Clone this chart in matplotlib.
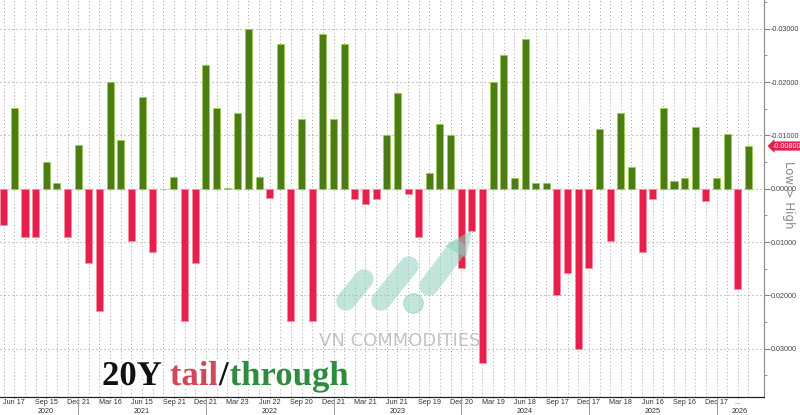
import matplotlib
matplotlib.use('Agg')
import matplotlib.pyplot as plt
import numpy as np
from matplotlib.lines import Line2D
from matplotlib.patches import Polygon
import matplotlib.transforms as mtransforms
import matplotlib.patheffects as pe

# 20Y auction tail (+) / through (-), in yield units
tail = [0.0069, -0.0151, 0.0090, 0.0090, -0.0050, -0.0010, 0.0090, -0.0081,
        0.0140, 0.0229, -0.0200, -0.0091, 0.0099, -0.0171, 0.0119, 0.0001,
        -0.0021, 0.0249, 0.0140, -0.0231, -0.0151, -0.0001, -0.0141, -0.0300,
        -0.0021, 0.0018, -0.0271, 0.0249, -0.0130, 0.0249, -0.0290, -0.0130,
        -0.0271, 0.0019, 0.0029, 0.0019, -0.0100, -0.0180, 0.0010, 0.0090,
        -0.0030, -0.0121, -0.0100, 0.0149, 0.0079, 0.0327, -0.0200, -0.0250,
        -0.0020, -0.0280, -0.0011, -0.0011, 0.0199, 0.0159, 0.0300, 0.0149,
        -0.0111, 0.0099, -0.0141, -0.0041, 0.0119, 0.0019, -0.0151, -0.0015,
        -0.0020, -0.0115, 0.0023, -0.0020, -0.0103, 0.0189, -0.0080]

tick_pos = [1, 4, 7, 10, 13, 16, 19, 22, 25, 28, 31, 34, 37, 40, 43, 46,
            49, 52, 55, 58, 61, 64, 67, 69]
tick_labels = ['Jun 17', 'Sep 15', 'Dec 21', 'Mar 16', 'Jun 15', 'Sep 21',
               'Dec 21', 'Mar 23', 'Jun 22', 'Sep 20', 'Dec 21', 'Mar 21',
               'Jun 21', 'Sep 19', 'Dec 20', 'Mar 19', 'Jun 18', 'Sep 17',
               'Dec 17', 'Mar 18', 'Jun 16', 'Sep 16', 'Dec 17', '...']
year_labels = ['2020', '2021', '2022', '2023', '2024', '2025', '2026']
year_pos = [3.9, 13, 25, 37, 49, 61, 69.2]
year_seps = [7, 19, 31, 43, 55, 67]
last_value = -0.008

y_ticks = [-0.03, -0.02, -0.01, 0.0, 0.01, 0.02, 0.03]

SMALL = ['Liberation Sans Narrow', 'Liberation Sans', 'DejaVu Sans']

W, H = 800, 415
fig = plt.figure(figsize=(8, 4.15), dpi=100)
fig.patch.set_facecolor('white')
ax = fig.add_axes([0, 1 - 397 / H, 764 / W, 397 / H])
ax.set_facecolor('white')

x = np.arange(len(tail))
vals = np.array(tail)
green, red = '#4b7d14', '#e6204a'
colors = [red if v > 0 else green for v in vals]
edges = ['#ff8a9c' if v > 0 else '#9bd04a' for v in vals]
ax.bar(x, vals, width=0.66, color=colors, edgecolor=edges, linewidth=0.5, zorder=3)

ax.set_xlim(-0.35, 71.46)
ax.set_ylim(0.03906, -0.03538)

ax.set_xticks(tick_pos)
ax.set_xticklabels(tick_labels)
ax.set_yticks(y_ticks)
ax.set_yticklabels(['%.5f' % v for v in y_ticks])
ax.set_yticks(np.arange(-0.035, 0.0351, 0.005), minor=True)
ax.grid(False)
for xi in x:
    ax.axvline(xi, color='#a8a8a8', lw=0.7, ls=(0, (1, 2.6)), zorder=1)
for yv in y_ticks:
    ax.axhline(yv, color='#a0a0a0', lw=0.8, ls=(0, (1, 2.6)), zorder=1)

ax.yaxis.tick_right()
ax.tick_params(axis='y', which='major', labelsize=5.2, labelcolor='#444444',
               color='#888888', length=4, width=0.8, pad=1)
ax.tick_params(axis='y', which='minor', color='#888888', length=2, width=0.6)
ax.tick_params(axis='x', which='major', labelsize=5.2, labelcolor='#333333',
               color='#666666', length=1, width=0.6, pad=0.5)
for lab in ax.get_yticklabels() + ax.get_xticklabels():
    lab.set_family(SMALL)
for s in ['left', 'top']:
    ax.spines[s].set_visible(False)
ax.spines['right'].set_color('#888888')
ax.spines['right'].set_linewidth(0.8)
ax.spines['bottom'].set_color('#222222')
ax.spines['bottom'].set_linewidth(0.9)

bt = mtransforms.blended_transform_factory(ax.transData, ax.transAxes)
for lab, p in zip(year_labels, year_pos):
    ax.text(p, -0.0375, lab, transform=bt, ha='center', va='center',
            fontsize=5.2, color='#333333', family=SMALL)
for p in year_seps:
    ax.add_line(Line2D([p, p], [-0.006, -0.05], transform=bt, color='#999999',
                       lw=0.7, clip_on=False))

# last value label
rt = mtransforms.blended_transform_factory(ax.transAxes, ax.transData)
ax.text(1.011, last_value, '%.5f' % last_value, transform=rt, ha='left', va='center',
        fontsize=5.2, color='white', family=SMALL,
        bbox=dict(boxstyle='larrow,pad=0.15', fc=red, ec='none'), clip_on=False, zorder=6)

fig.text(788 / W, 1 - 195 / H, 'Low > High', rotation=270, ha='center', va='center',
         fontsize=8.5, color='#8a8a8a')

# watermark
def P(px, py):
    return (px / W, 1 - py / H)

wm = '#8fd0bf'
for (a, b) in [((346, 301), (364, 279)), ((381, 301), (409, 266)),
               ((429, 286), (456, 250))]:
    (x0, y0), (x1, y1) = P(*a), P(*b)
    fig.add_artist(Line2D([x0, x1], [y0, y1], transform=fig.transFigure, color=wm,
                          lw=14, solid_capstyle='round', alpha=0.55, zorder=5))
fig.add_artist(Line2D([P(413, 303)[0]], [P(413, 303)[1]], transform=fig.transFigure,
                      marker='o', ms=14, color=wm, alpha=0.55, zorder=5, ls='none'))
fig.add_artist(Polygon([P(445, 246), P(472, 230), P(466, 258)], closed=True,
                       transform=fig.transFigure, fc=wm, ec='none', alpha=0.55, zorder=5))
fig.text(400 / W, 1 - 341 / H, 'VN COMMODITIES', ha='center', va='center',
         fontsize=13, color='#b5b5b5', alpha=0.8, zorder=5)

# title
fig.canvas.draw()
r = fig.canvas.get_renderer()
parts = [('20Y', '#111111', 0), ('tail', '#d4475b', 8), ('/', '#111111', 1),
         ('through', '#2f8c3e', 1)]
cx = 102
for txt, col, gap in parts:
    cx += gap
    t = fig.text(cx / W, 1 - 385 / H, txt, ha='left', va='baseline',
                 fontsize=25, fontweight='bold', family='Liberation Serif', color=col,
                 zorder=7,
                 path_effects=[pe.withStroke(linewidth=3, foreground='white')])
    bb = t.get_window_extent(renderer=r)
    cx = bb.x1

fig.savefig('out.png', dpi=100, facecolor='white')
